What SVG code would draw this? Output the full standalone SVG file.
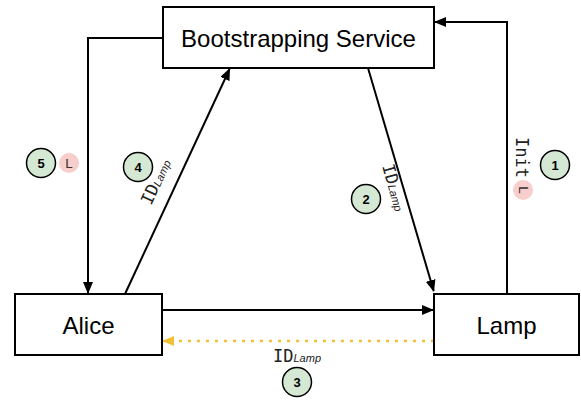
<svg xmlns="http://www.w3.org/2000/svg" width="581" height="400" viewBox="0 0 581 400">
<style>
.box{fill:#fff;stroke:#000;stroke-width:2}
.lbl{font-family:"Liberation Sans",Arial,sans-serif;font-size:24px;fill:#000;text-anchor:middle}
.edge{fill:none;stroke:#000;stroke-width:2}
.num{fill:#d5e8d4;stroke:#000;stroke-width:1.5}
.numt{font-family:"Liberation Sans",Arial,sans-serif;font-size:13px;font-weight:bold;text-anchor:middle}
.pink{fill:#f8cecc}
.pinkt{font-family:"DejaVu Sans Mono",monospace;font-size:13px;fill:#333;text-anchor:middle}
.id{font-family:"DejaVu Sans Mono",monospace;font-size:17px;fill:#222}
.sub{font-family:"Liberation Sans",Arial,sans-serif;font-style:italic;font-size:11px}
</style>
<defs>
<marker id="ah" viewBox="0 0 12 10" markerWidth="12" markerHeight="10" refX="11" refY="5" orient="auto" markerUnits="userSpaceOnUse"><path d="M0,0 L12,5 L0,10 z" fill="#000"/></marker>
<marker id="ay" viewBox="0 0 12 10" markerWidth="12" markerHeight="10" refX="11" refY="5" orient="auto" markerUnits="userSpaceOnUse"><path d="M0,0 L12,5 L0,10 z" fill="#f2c037"/></marker>
</defs>
<g id="connectors">
<path class="edge" d="M162,310 H433" marker-end="url(#ah)"/>
<path d="M434,341 H163" fill="none" stroke="#f2c037" stroke-width="2.5" stroke-dasharray="3 6" marker-end="url(#ay)"/>
<path class="edge" d="M507,294 V22 H435" marker-end="url(#ah)"/>
<path class="edge" d="M163,38 H88 V293" marker-end="url(#ah)"/>
<path class="edge" d="M125,294 L229.6,69" marker-end="url(#ah)"/>
<path class="edge" d="M368,68 L433.7,291" marker-end="url(#ah)"/>
</g>
<g id="bootstrap"><rect class="box" x="163" y="7" width="271" height="61"/><text class="lbl" x="298.5" y="46.5">Bootstrapping Service</text></g>
<g id="alice"><rect class="box" x="15" y="294" width="147" height="61"/><text class="lbl" x="88.5" y="333.5">Alice</text></g>
<g id="lamp"><rect class="box" x="434" y="294" width="145" height="61"/><text class="lbl" x="506.5" y="333.5">Lamp</text></g>
<g id="step1">
<text class="id" transform="translate(516,137) rotate(90)">Init</text>
<circle class="pink" cx="523" cy="190" r="10"/><text class="pinkt" transform="translate(519,190) rotate(90)">L</text>
<circle class="num" cx="555" cy="165" r="14.5"/><text class="numt" x="555" y="170">1</text>
</g>
<g id="step2">
<text class="id" transform="translate(382,166) rotate(74)">ID<tspan class="sub">Lamp</tspan></text>
<circle class="num" cx="366" cy="199" r="14.5"/><text class="numt" x="366" y="204">2</text>
</g>
<g id="step3">
<text class="id" x="273" y="362">ID<tspan class="sub">Lamp</tspan></text>
<circle class="num" cx="297" cy="382" r="14.5"/><text class="numt" x="297" y="387">3</text>
</g>
<g id="step4">
<text class="id" transform="translate(151,206) rotate(-65)">ID<tspan class="sub">Lamp</tspan></text>
<circle class="num" cx="138" cy="167" r="14.5"/><text class="numt" x="138" y="172">4</text>
</g>
<g id="step5">
<circle class="num" cx="41" cy="163" r="14.5"/><text class="numt" x="41" y="168">5</text>
<circle class="pink" cx="69" cy="163" r="10"/><text class="pinkt" x="69" y="168">L</text>
</g>
</svg>
